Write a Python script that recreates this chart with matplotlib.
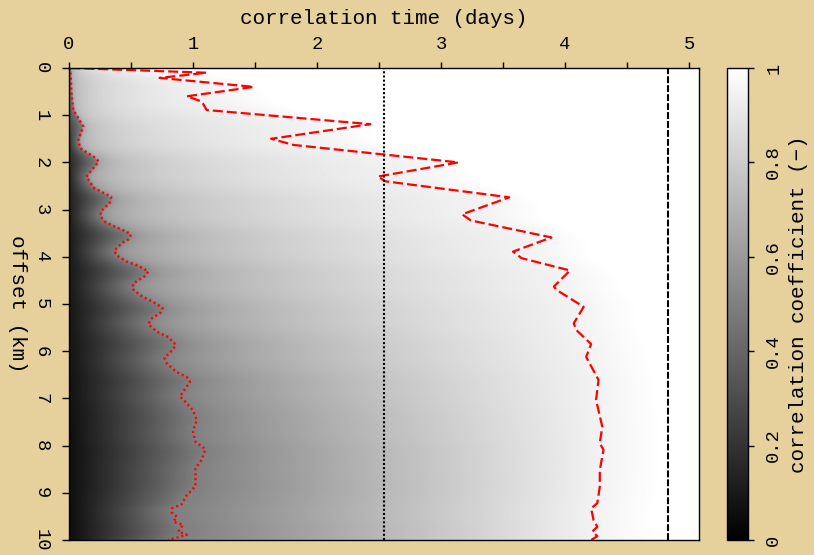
import numpy as np
import matplotlib
matplotlib.use("Agg")
import matplotlib.pyplot as plt
from matplotlib.ticker import FixedLocator, NullFormatter

plt.rcParams['font.family'] = ['Liberation Mono', 'DejaVu Sans Mono']

# ---- data -------------------------------------------------------------
# correlation time where the coefficient falls to 0.5 (red dotted curve)
dotted_offset = [0.0, 0.04, 0.54, 0.89, 1.17, 1.24, 1.53, 1.70, 1.88, 1.98,
                 2.30, 2.54, 2.73, 2.85, 3.04, 3.15, 3.26, 3.36, 3.47, 3.53,
                 3.63, 3.70, 3.87, 3.97, 4.10, 4.19, 4.31, 4.41, 4.56, 4.68,
                 4.84, 4.95, 5.08, 5.18, 5.32, 5.43, 5.59, 5.70, 5.86, 5.96,
                 6.14, 6.26, 6.43, 6.55, 6.65, 6.75, 6.86, 6.96, 7.05, 7.25,
                 7.46, 7.70, 7.92, 8.08, 8.30, 8.48, 8.73, 8.86, 8.94, 9.08,
                 9.24, 9.33, 9.42, 9.51, 9.61, 9.68, 9.82, 9.89, 9.96, 10.0]
dotted_time = [0.0, 0.01, 0.02, 0.035, 0.10, 0.115, 0.075, 0.09, 0.20, 0.24,
               0.14, 0.20, 0.34, 0.33, 0.255, 0.255, 0.29, 0.37, 0.465, 0.50,
               0.48, 0.43, 0.365, 0.385, 0.465, 0.56, 0.64, 0.61, 0.52, 0.51,
               0.59, 0.675, 0.755, 0.74, 0.66, 0.64, 0.71, 0.80, 0.86, 0.84,
               0.77, 0.79, 0.86, 0.95, 0.975, 0.95, 0.92, 0.895, 0.93, 1.0,
               1.03, 1.0, 1.02, 1.10, 1.07, 1.02, 1.02, 1.02, 0.99, 0.94,
               0.91, 0.83, 0.83, 0.87, 0.84, 0.92, 0.88, 0.95, 0.855, 0.80]

# correlation time where the coefficient reaches 0.95 (red dashed curve)
dashed_offset = [0.0, 0.10, 0.21, 0.40, 0.60, 0.71, 0.89, 1.19, 1.50, 1.63,
                 2.00, 2.30, 2.40, 2.74, 3.10, 3.23, 3.59, 3.89, 4.03, 4.29,
                 4.63, 4.70, 5.06, 5.41, 5.55, 5.85, 6.12, 6.61, 7.03, 7.60,
                 7.95, 8.09, 8.52, 8.87, 9.22, 9.33, 9.58, 9.72, 9.82, 9.92,
                 10.0]
dashed_time = [0.01, 1.11, 0.73, 1.49, 0.95, 1.07, 1.11, 2.43, 1.63, 1.81,
               3.14, 2.49, 2.55, 3.55, 3.17, 3.24, 3.89, 3.58, 3.65, 4.04,
               3.91, 3.93, 4.15, 4.07, 4.09, 4.21, 4.17, 4.27, 4.25, 4.30,
               4.28, 4.31, 4.28, 4.28, 4.26, 4.21, 4.23, 4.26, 4.22, 4.26,
               4.21]

# coefficient at zero lag time and curvature of the rise, versus offset
edge_offset = [0.0, 0.5, 1.0, 1.5, 2.0, 3.0, 4.0, 6.0, 8.0, 10.0]
edge_value = [0.60, 0.45, 0.32, 0.22, 0.16, 0.12, 0.10, 0.08, 0.06, 0.05]
rise_offset = [0.0, 1.0, 2.0, 3.0, 4.0, 5.0, 6.0, 7.0, 8.0, 9.0, 10.0]
rise_power = [0.22, 0.17, 0.24, 0.33, 0.42, 0.50, 0.62, 0.75, 0.85, 0.95, 1.0]

# reference correlation times (vertical lines)
mean_time = 2.54
max_time = 4.83

time_max = 5.08
offset_max = 10.0
x_ticks = [0, 1, 2, 3, 4, 5]
x_minor = [0.5, 1.5, 2.5, 3.5, 4.5]
y_ticks = [0, 1, 2, 3, 4, 5, 6, 7, 8, 9, 10]
cb_ticks = [0, 0.2, 0.4, 0.6, 0.8, 1]
cb_labels = ['0', '0.2', '0.4', '0.6', '0.8', '1']


def running_mean(values, width):
    """Centred running mean with edge padding."""
    pad = width // 2
    padded = np.pad(values, pad, mode='edge')
    kernel = np.ones(width) / width
    return np.convolve(padded, kernel, mode='valid')


# ---- coefficient panel built from the level-crossing times ------------
rows = np.linspace(0, offset_max, 501)
cols = np.linspace(0, time_max, 509)
d1 = running_mean(np.interp(rows, dotted_offset, dotted_time), 9)
d1 = np.maximum(d1, 0.01)
d2 = running_mean(np.interp(rows, dashed_offset, dashed_time), 31)
d2 = np.maximum(d2, d1 + 0.3)
e0 = np.interp(rows, edge_offset, edge_value)
pw = np.interp(rows, rise_offset, rise_power)

T = cols[None, :]
D1, D2, E0, PW = d1[:, None], d2[:, None], e0[:, None], pw[:, None]
low = E0 + (0.5 - E0) * np.clip(T / D1, 0, 1)
mid = 0.5 + 0.45 * np.clip((T - D1) / (D2 - D1), 0, 1) ** PW
high = 0.95 + 0.05 * np.clip((T - D2) / 0.5, 0, 1)
coef = np.where(T < D1, low, np.where(T < D2, mid, high))

# ---- figure -----------------------------------------------------------
bg = '#E6D19C'
fig = plt.figure(figsize=(8.14, 5.55), dpi=100, facecolor=bg)
ax = fig.add_axes([69 / 814, 15 / 555, 630 / 814, 472 / 555])

im = ax.imshow(coef, cmap='gray', vmin=0, vmax=1, aspect='auto',
               extent=[0, time_max, offset_max, 0], interpolation='bilinear')

ax.plot(dotted_time, dotted_offset, color='#FF0000', lw=1.8,
        linestyle=(0, (0.8, 1.2)))
ax.plot(dashed_time, dashed_offset, color='#FF0000', lw=1.6,
        linestyle=(0, (4.5, 1.8)))
ax.axvline(mean_time, color='black', lw=1.5, linestyle=(0, (1, 1)))
ax.axvline(max_time, color='black', lw=1.5, linestyle=(0, (3.3, 1)))

ax.set_xlim(0, time_max)
ax.set_ylim(offset_max, 0)

ax.xaxis.tick_top()
ax.xaxis.set_label_position('top')
ax.set_xticks(x_ticks)
ax.set_xticklabels([str(v) for v in x_ticks])
ax.xaxis.set_minor_locator(FixedLocator(x_minor))
ax.xaxis.set_minor_formatter(NullFormatter())
ax.set_yticks(y_ticks)
ax.set_yticklabels([str(v) for v in y_ticks], rotation=-90, va='center')

ax.tick_params(axis='x', which='both', length=4.5, width=1, pad=6,
               labelsize=13.5, direction='out', top=True, bottom=False)
ax.tick_params(axis='y', which='both', length=4.8, width=1, pad=9,
               labelsize=13.5, direction='out')

ax.set_xlabel('correlation time (days)', fontsize=15)
ax.xaxis.set_label_coords(0.5, 1 + (68 - 19) / 472)
ax.xaxis.label.set_va('center')
ax.set_ylabel('offset (km)', fontsize=15, rotation=270)
ax.yaxis.label.set(va='center', ha='center')
ax.yaxis.set_label_coords((17 - 69) / 630, 0.5)

for s in ax.spines.values():
    s.set_linewidth(1)
    s.set_color('black')

cax = fig.add_axes([727 / 814, 15 / 555, 21 / 814, 472 / 555])
cb = fig.colorbar(im, cax=cax, ticks=cb_ticks)
cb.ax.set_yticklabels(cb_labels, rotation=90, va='center')
cb.ax.tick_params(length=4.5, width=1, pad=8, labelsize=13.5)
cb.outline.set_linewidth(1)
cb.set_label('correlation coefficient (\u2212)', fontsize=15, rotation=90)
cb.ax.yaxis.label.set(va='center', ha='center')
cb.ax.yaxis.set_label_coords((798 - 727) / 21, 0.5)

fig.savefig('out.png', dpi=100, facecolor=bg)
